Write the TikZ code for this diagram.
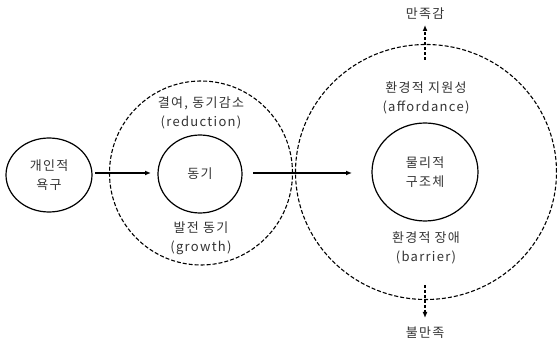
\documentclass[tikz,border=0pt]{standalone}
\usepackage{fontspec}
\setmainfont[LetterSpace=10]{Noto Sans CJK KR}
\usetikzlibrary{arrows.meta,shapes.geometric}
\begin{document}
\begin{tikzpicture}[x=1pt,y=-1pt,
  every node/.style={font=\fontsize{13}{19}\selectfont, text=black!80, align=center, inner sep=0pt},
  ell/.style={draw, ellipse, line width=1.2pt, text=black!80},
  zone/.style={draw, ellipse, dashed, dash pattern=on 4pt off 2pt, line width=1.1pt},
  arr/.style={-{Latex[length=6pt,width=5pt]}, line width=1.2pt},
  darr/.style={-{Latex[length=6pt,width=5pt]}, line width=1.2pt, dash pattern=on 3pt off 2pt}]
\useasboundingbox (0,0) rectangle (557,347);
% zones
\node[zone, minimum width=183pt, minimum height=184pt] (mid) at (201,173) {};
\node[zone, minimum width=261pt, minimum height=255pt] (env) at (426,172) {};
% nodes
\node[ell, minimum width=86pt, minimum height=74pt] (need) at (49,175) {개인적\\욕구};
\node[ell, minimum width=84pt, minimum height=78pt] (motive) at (200,174) {동기};
\node[ell, minimum width=106pt, minimum height=98pt] (phys) at (425,172) {물리적\\구조체};
% labels
\node (red) at (201,113) {결여, 동기감소\\(reduction)};
\node (gro) at (201,238) {발전 동기\\(growth)};
\node (aff) at (426,98) {환경적 지원성\\(affordance)};
\node (bar) at (426,248) {환경적 장애\\(barrier)};
\node (sat) at (425,14) {만족감};
\node (dis) at (425,333) {불만족};
% connectors
\coordinate (a1) at (95,173);
\coordinate (a2) at (151,173);
\coordinate (b1) at (253,173);
\coordinate (b2) at (352,173);
\draw[arr] (a1) -- (a2);
\draw[arr] (b1) -- (b2);
\coordinate (s0) at (425,60);
\coordinate (s1) at (425,25);
\coordinate (d0) at (425,285);
\coordinate (d1) at (425,318);
\draw[darr] (s0) -- (s1);
\draw[darr] (d0) -- (d1);
\end{tikzpicture}
\end{document}
